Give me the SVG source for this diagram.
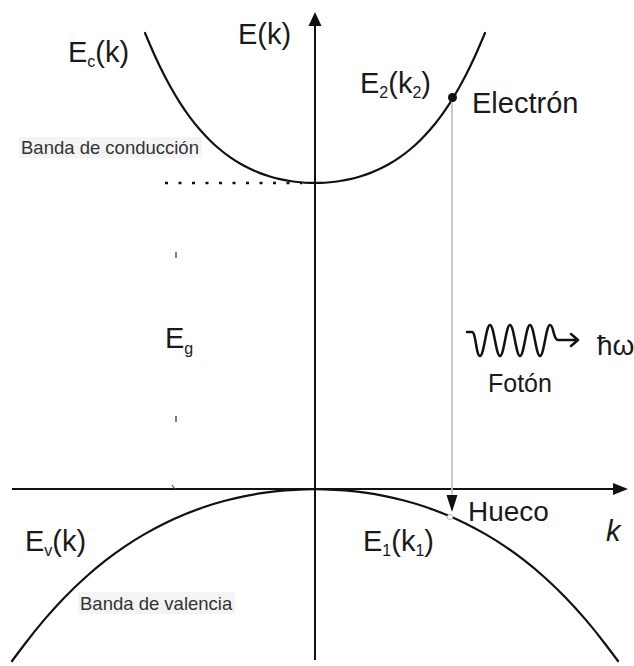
<svg xmlns="http://www.w3.org/2000/svg" width="634" height="666" viewBox="0 0 634 666">
<style>
.t{font-family:"Liberation Sans",Arial,sans-serif;fill:#1a1a1a}
.big{font-size:29px}
.sub{font-size:16px}
.band{font-family:"Liberation Sans",Arial,sans-serif;font-size:18.5px;fill:#333}
.curve{fill:none;stroke:#111;stroke-width:2.2;stroke-linejoin:round;stroke-linecap:round}
.axis{fill:none;stroke:#111;stroke-width:2}
</style>
<rect width="634" height="666" fill="#fff"/>
<g id="axes">
<line class="axis" x1="315" y1="660" x2="315" y2="24"/>
<polygon points="315,12 308.5,26 321.5,26" fill="#111"/>
<line class="axis" x1="12" y1="489" x2="615" y2="489" stroke-width="2.2"/>
<polygon points="628,489 613,483 613,495" fill="#111"/>
</g>
<g id="conduction-band">
<path class="curve" d="M145,33 L150,44.75 Q155,56.5 160,66.79 Q165,77.08 170,86.05 Q175,95.02 180,102.8 Q185,110.58 190,117.3 Q195,124.01 200,129.77 Q205,135.53 210,140.44 Q215,145.35 220,149.51 Q225,153.67 230,157.16 Q235,160.65 240,163.55 Q245,166.44 250,168.82 Q255,171.19 260,173.1 Q265,175 270,176.5 Q275,177.99 280,179.11 Q285,180.23 290,181 Q295,181.78 300,182.24 Q305,182.7 310,182.85 Q315,183 320,182.85 Q325,182.7 330,182.24 Q335,181.78 340,181 Q345,180.23 350,179.11 Q355,177.99 360,176.5 Q365,175 370,173.1 Q375,171.19 380,168.82 Q385,166.44 390,163.55 Q395,160.65 400,157.16 Q405,153.67 410,149.51 Q415,145.35 420,140.44 Q425,135.53 430,129.77 Q435,124.01 440,117.3 Q445,110.58 450,102.8 Q455,95.02 460,86.05 Q465,77.08 470,66.79 Q475,56.5 480,44.75 L485,33"/>
</g>
<g id="valence-band">
<path class="curve" d="M12,661 L15,657 L25,643.78 Q35,630.56 45,618.89 Q55,607.22 65,596.96 Q75,586.7 85,577.73 Q95,568.75 105,560.95 Q115,553.14 125,546.4 Q135,539.66 145,533.89 Q155,528.11 165,523.22 Q175,518.32 185,514.24 Q195,510.15 205,506.81 Q215,503.46 225,500.8 Q235,498.13 245,496.11 Q255,494.08 265,492.66 Q275,491.24 285,490.4 Q295,489.56 305,489.28 Q315,489 325,489.28 Q335,489.56 345,490.4 Q355,491.24 365,492.66 Q375,494.08 385,496.11 Q395,498.13 405,500.8 Q415,503.46 425,506.81 Q435,510.15 445,514.24 Q455,518.32 465,523.22 Q475,528.11 485,533.89 Q495,539.66 505,546.4 Q515,553.14 525,560.95 Q535,568.75 545,577.73 Q555,586.7 565,596.96 Q575,607.22 585,618.89 Q595,630.56 605,643.78 L615,657 L618,661"/>
</g>
<g id="gap-marks">
<line x1="165" y1="183" x2="302" y2="183" stroke="#111" stroke-width="2.6" stroke-dasharray="3 10.5"/>
<line x1="176" y1="252" x2="176" y2="258" stroke="#555" stroke-width="1.5"/>
<line x1="176" y1="416" x2="176" y2="422" stroke="#555" stroke-width="1.5"/>
<line x1="172" y1="485" x2="175" y2="489" stroke="#555" stroke-width="1.2"/>
</g>
<g id="connectors">
<line x1="452" y1="102" x2="452" y2="497" stroke="#c4c4c4" stroke-width="1.8"/>
<polygon points="446.5,495 457.5,495 452,512" fill="#111"/>
</g>
<g id="electron">
<circle cx="452.5" cy="97.5" r="4.5" fill="#111"/>
<text class="t big" x="472" y="113">Electrón</text>
</g>
<g id="hole">
<circle cx="450" cy="517" r="2.6" fill="#fff" stroke="#bbb" stroke-width="1"/>
<text class="t" font-size="28" x="468" y="521">Hueco</text>
</g>
<g id="photon">
<path d="M467,332 L472,332 C476,332 476,356 480,356 C484,356 486,325 490,325 C494,325 496,356 500,356 C504,356 506,325 510,325 C514,325 516,356 520,356 C524,356 526,325 530,325 C534,325 536,356 540,356 C544,356 546,325 550,325 C554,325 553,340 558,340 L578,340 M571,334 L578,340 L571,346" fill="none" stroke="#111" stroke-width="2.5" stroke-linejoin="round" stroke-linecap="round"/>
<text class="t" font-size="28" x="597" y="355">ħω</text>
<text class="t" font-size="25" x="488" y="392">Fotón</text>
</g>
<g id="labels">
<text class="t big" x="238" y="44">E(k)</text>
<text class="t big" x="68" y="62">E<tspan class="sub" dy="5">c</tspan><tspan dy="-5">(k)</tspan></text>
<text class="t big" x="360" y="93">E<tspan class="sub" dy="5">2</tspan><tspan dy="-5">(k</tspan><tspan class="sub" dy="5">2</tspan><tspan dy="-5">)</tspan></text>
<text class="t big" x="165" y="348">E<tspan class="sub" dy="6">g</tspan></text>
<text class="t big" x="25" y="551">E<tspan class="sub" dy="5">v</tspan><tspan dy="-5">(k)</tspan></text>
<text class="t big" x="363" y="551">E<tspan class="sub" dy="5">1</tspan><tspan dy="-5">(k</tspan><tspan class="sub" dy="5">1</tspan><tspan dy="-5">)</tspan></text>
<text class="t" font-size="29" font-style="italic" x="606" y="541">k</text>
</g>
<g id="band-names">
<rect x="19" y="137" width="183" height="21" fill="#f4f4f4"/>
<text class="band" x="21" y="154">Banda de conducción</text>
<rect x="78" y="592" width="157" height="22" fill="#f4f4f4"/>
<text class="band" x="80" y="610">Banda de valencia</text>
</g>
</svg>
